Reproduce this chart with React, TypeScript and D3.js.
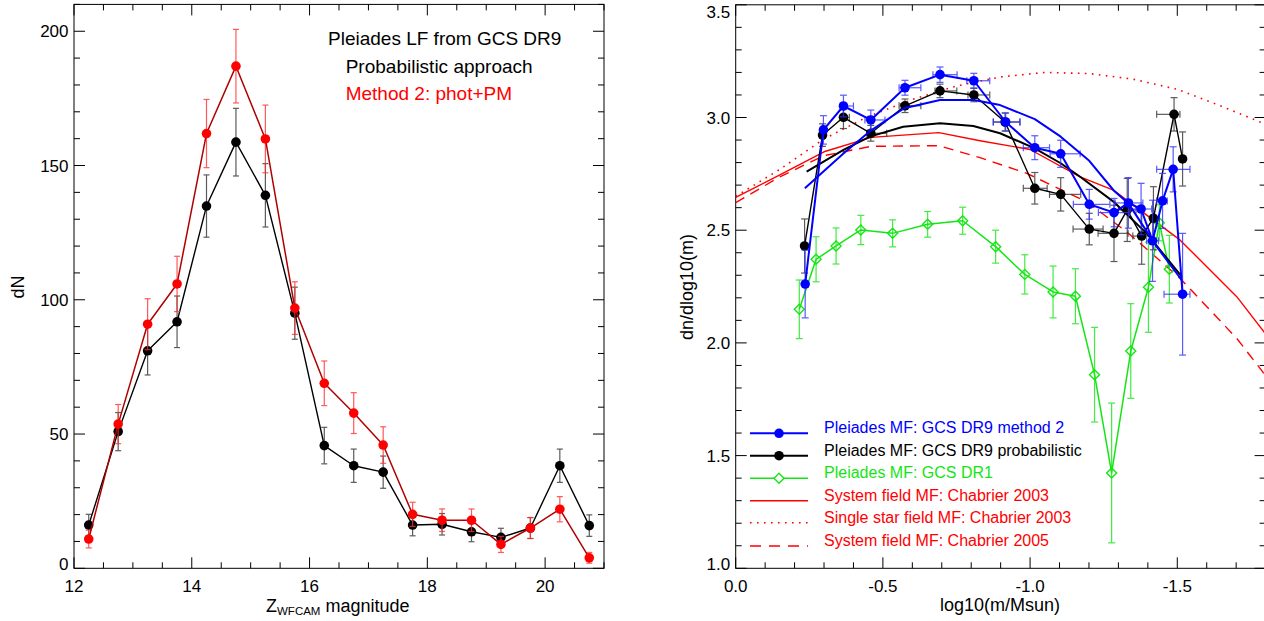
import React from 'react';
import * as d3 from 'd3';

const FONT = '"Liberation Sans", Arial, Helvetica, sans-serif';

// ---------- Left panel: luminosity function ----------
const lfMag = [12.25, 12.75, 13.25, 13.75, 14.25, 14.75, 15.25, 15.75, 16.25, 16.75, 17.25, 17.75, 18.25, 18.75, 19.25, 19.75, 20.25, 20.75];
const lfProb = [16.1, 50.9, 81.0, 91.8, 134.9, 158.7, 138.9, 95.0, 45.7, 38.2, 35.8, 16.1, 16.4, 13.6, 11.5, 15.0, 38.2, 15.9];
const lfProbErr = [4.0, 7.1, 9.0, 9.6, 11.6, 12.6, 11.8, 9.7, 6.8, 6.2, 6.0, 4.0, 4.0, 3.7, 3.4, 3.9, 6.2, 4.0];
const lfM2 = [10.9, 53.7, 90.9, 105.9, 161.9, 187.0, 159.9, 96.9, 68.9, 57.8, 45.9, 20.1, 17.9, 17.9, 8.9, 15.0, 22.0, 3.9];
const lfM2Err = [3.3, 7.3, 9.5, 10.3, 12.7, 13.7, 12.6, 9.8, 8.3, 7.6, 6.8, 4.5, 4.2, 4.2, 3.0, 3.9, 4.7, 2.0];
const lfXTicks = [12, 14, 16, 18, 20];
const lfYTicks = [0, 50, 100, 150, 200];
const lfNotes = ['Pleiades LF from GCS DR9', 'Probabilistic approach', 'Method 2: phot+PM'];

// ---------- Right panel: mass function ----------
const m2LogM = [-0.236, -0.298, -0.366, -0.459, -0.575, -0.694, -0.809, -0.917, -1.016, -1.104, -1.201, -1.285, -1.334, -1.377, -1.416, -1.450, -1.486, -1.518];
const m2Val = [2.261, 2.945, 3.051, 2.989, 3.132, 3.190, 3.163, 2.980, 2.866, 2.839, 2.615, 2.578, 2.621, 2.594, 2.453, 2.630, 2.770, 2.216];
const m2Err = [0.15, 0.063, 0.048, 0.044, 0.033, 0.034, 0.033, 0.04, 0.053, 0.06, 0.066, 0.063, 0.112, 0.114, 0.18, 0.122, 0.1, 0.27];
const m2XErrL = [0, 0.005, 0.01, 0.02, 0.02, 0.024, 0.024, 0.042, 0.039, 0.036, 0.054, 0.053, 0.045, 0.037, 0.02, 0.02, 0.056, 0.063];
const m2XErrR = [0.01, 0.01, 0.034, 0.048, 0.054, 0.058, 0.054, 0.049, 0.05, 0.066, 0.07, 0.054, 0.049, 0.036, 0.02, 0.016, 0.057, 0.025];

const prLogM = [-0.234, -0.295, -0.366, -0.459, -0.575, -0.694, -0.809, -0.915, -1.016, -1.104, -1.201, -1.285, -1.330, -1.379, -1.419, -1.489, -1.518];
const prVal = [2.430, 2.922, 3.001, 2.930, 3.052, 3.118, 3.100, 2.980, 2.686, 2.659, 2.505, 2.486, 2.590, 2.474, 2.553, 3.014, 2.816];
const prErr = [0.12, 0.05, 0.05, 0.035, 0.03, 0.03, 0.03, 0.04, 0.07, 0.074, 0.07, 0.125, 0.14, 0.125, 0.14, 0.074, 0.12];
const prXErrL = [0, 0.005, 0.01, 0.014, 0.02, 0.017, 0.02, 0.04, 0.039, 0.038, 0.055, 0.054, 0.03, 0.03, 0.01, 0.059, 0];
const prXErrR = [0, 0.01, 0.02, 0.054, 0.054, 0.057, 0.054, 0.05, 0.042, 0.068, 0.047, 0.048, 0.03, 0.03, 0.02, 0.02, 0];

const dr1LogM = [-0.216, -0.273, -0.341, -0.425, -0.533, -0.652, -0.771, -0.883, -0.982, -1.078, -1.154, -1.219, -1.277, -1.342, -1.402, -1.439, -1.473];
const dr1Val = [2.149, 2.371, 2.430, 2.501, 2.486, 2.526, 2.542, 2.427, 2.304, 2.226, 2.207, 1.859, 1.423, 1.964, 2.247, 2.533, 2.327];
const dr1Err = [0.13, 0.10, 0.08, 0.065, 0.06, 0.057, 0.06, 0.073, 0.087, 0.115, 0.122, 0.21, 0.31, 0.21, 0.2, 0.08, 0.15];

const m2FitLogM = [-0.235, -0.298, -0.366, -0.459, -0.572, -0.694, -0.809, -0.898, -1.016, -1.104, -1.201, -1.285, -1.334, -1.43, -1.515];
const m2FitVal = [2.686, 2.76, 2.84, 2.942, 3.041, 3.078, 3.078, 3.055, 2.993, 2.915, 2.808, 2.675, 2.619, 2.427, 2.279];

const prFitLogM = [-0.241, -0.366, -0.456, -0.569, -0.694, -0.807, -0.898, -1.016, -1.104, -1.17, -1.283, -1.396, -1.515];
const prFitVal = [2.76, 2.856, 2.915, 2.959, 2.974, 2.962, 2.93, 2.863, 2.797, 2.737, 2.627, 2.486, 2.294];

const c03SysLogM = [0, -0.15, -0.3, -0.46, -0.69, -0.83, -1.0, -1.17, -1.283, -1.396, -1.509, -1.702, -1.8];
const c03SysVal = [2.646, 2.745, 2.848, 2.912, 2.933, 2.897, 2.858, 2.737, 2.678, 2.567, 2.457, 2.205, 2.04];

const c03SingleLogM = [0, -0.15, -0.3, -0.45, -0.6, -0.75, -0.9, -1.05, -1.2, -1.35, -1.5, -1.65, -1.8];
const c03SingleVal = [2.65, 2.77, 2.905, 3.005, 3.08, 3.14, 3.18, 3.2, 3.195, 3.17, 3.125, 3.05, 2.97];

const c05SysLogM = [0, -0.15, -0.3, -0.46, -0.69, -0.83, -0.989, -1.192, -1.328, -1.413, -1.509, -1.622, -1.702, -1.8];
const c05SysVal = [2.622, 2.737, 2.831, 2.872, 2.875, 2.822, 2.752, 2.626, 2.493, 2.397, 2.287, 2.131, 2.02, 1.855];

const mfXTicks = [0, -0.5, -1.0, -1.5];
const mfYTicks = [1.0, 1.5, 2.0, 2.5, 3.0, 3.5];
const legendLabels = [
  'Pleiades MF: GCS DR9 method 2',
  'Pleiades MF: GCS DR9 probabilistic',
  'Pleiades MF: GCS DR1',
  'System field MF: Chabrier 2003',
  'Single star field MF: Chabrier 2003',
  'System field MF: Chabrier 2005',
];

type Scale = d3.ScaleLinear<number, number>;

function minorTicks(a: number, b: number, step: number, majors: number[]) {
  const n = Math.round(Math.abs(b - a) / step);
  const dir = b >= a ? 1 : -1;
  return d3.range(0, n + 1)
    .map((i) => a + dir * i * step)
    .filter((v) => !majors.some((m) => Math.abs(m - v) < step / 10));
}

function Frame(props: {
  x: Scale; y: Scale; xMajor: number[]; yMajor: number[]; xMinorStep: number; yMinorStep: number;
  xFmt: (v: number) => string; yFmt: (v: number) => string;
}) {
  const { x, y, xMajor, yMajor, xMinorStep, yMinorStep, xFmt, yFmt } = props;
  const [x0, x1] = x.range();
  const [yb, yt] = y.range();
  const xd = x.domain();
  const yd = y.domain();
  const xMinor = minorTicks(xd[0], xd[1], xMinorStep, xMajor);
  const yMinor = minorTicks(yd[0], yd[1], yMinorStep, yMajor);
  const L = 11, l = 6;
  const els: React.ReactNode[] = [];
  xMajor.forEach((v, i) => {
    const px = x(v);
    els.push(<line key={'xM' + i} x1={px} x2={px} y1={yb} y2={yb - L} />);
    els.push(<line key={'xMt' + i} x1={px} x2={px} y1={yt} y2={yt + L} />);
  });
  xMinor.forEach((v, i) => {
    const px = x(v);
    els.push(<line key={'xm' + i} x1={px} x2={px} y1={yb} y2={yb - l} />);
    els.push(<line key={'xmt' + i} x1={px} x2={px} y1={yt} y2={yt + l} />);
  });
  yMajor.forEach((v, i) => {
    const py = y(v);
    els.push(<line key={'yM' + i} x1={x0} x2={x0 + L} y1={py} y2={py} />);
    els.push(<line key={'yMr' + i} x1={x1} x2={x1 - L} y1={py} y2={py} />);
  });
  yMinor.forEach((v, i) => {
    const py = y(v);
    els.push(<line key={'ym' + i} x1={x0} x2={x0 + l} y1={py} y2={py} />);
    els.push(<line key={'ymr' + i} x1={x1} x2={x1 - l} y1={py} y2={py} />);
  });
  return (
    <g>
      <g stroke="#000" strokeWidth={1} fill="none">
        <rect x={x0} y={yt} width={x1 - x0} height={yb - yt} />
        {els}
      </g>
      <g fontFamily={FONT} fontSize={17} fill="#000">
        {xMajor.map((v, i) => (
          <text key={'xl' + i} x={x(v)} y={592} textAnchor="middle">{xFmt(v)}</text>
        ))}
        {yMajor.map((v, i) => {
          const cy = Math.max(yt + 7, Math.min(yb - 4, y(v)));
          return (
            <text key={'yl' + i} x={x0 - 5.5} y={cy} dy="0.36em" textAnchor="end">{yFmt(v)}</text>
          );
        })}
      </g>
    </g>
  );
}

function YErr(props: { xs: number[]; ys: number[]; es: number[]; x: Scale; y: Scale; color: string; cap: number; width?: number }) {
  const { xs, ys, es, x, y, color, cap } = props;
  return (
    <g stroke={color} strokeWidth={props.width ?? 1.2} opacity={0.8}>
      {xs.map((xv, i) => {
        const px = x(xv);
        const top = y(ys[i] + es[i]);
        const bot = y(ys[i] - es[i]);
        return (
          <g key={i}>
            <line x1={px} x2={px} y1={top} y2={bot} />
            <line x1={px - cap} x2={px + cap} y1={top} y2={top} />
            <line x1={px - cap} x2={px + cap} y1={bot} y2={bot} />
          </g>
        );
      })}
    </g>
  );
}

function XErr(props: { xs: number[]; ys: number[]; el: number[]; er: number[]; x: Scale; y: Scale; color: string; cap: number }) {
  const { xs, ys, el, er, x, y, color, cap } = props;
  return (
    <g stroke={color} strokeWidth={1.2} opacity={0.8}>
      {xs.map((xv, i) => {
        if (el[i] === 0 && er[i] === 0) return null;
        const py = y(ys[i]);
        const a = x(xv + el[i]);
        const b = x(xv - er[i]);
        return (
          <g key={i}>
            <line x1={a} x2={b} y1={py} y2={py} />
            {el[i] > 0.008 && <line x1={a} x2={a} y1={py - cap} y2={py + cap} />}
            {er[i] > 0.008 && <line x1={b} x2={b} y1={py - cap} y2={py + cap} />}
          </g>
        );
      })}
    </g>
  );
}

function Curve(props: { xs: number[]; ys: number[]; x: Scale; y: Scale; color: string; width: number; dash?: string }) {
  const { xs, ys, x, y, color, width, dash } = props;
  const gen = d3.line<[number, number]>().x((d) => x(d[0])).y((d) => y(d[1]));
  const pts = d3.zip(xs, ys) as [number, number][];
  return <path d={gen(pts) || ''} fill="none" stroke={color} strokeWidth={width} strokeDasharray={dash} strokeLinejoin="round" />;
}

function Dots(props: { xs: number[]; ys: number[]; x: Scale; y: Scale; color: string; r: number }) {
  const { xs, ys, x, y, color, r } = props;
  return (
    <g fill={color}>
      {xs.map((xv, i) => <circle key={i} cx={x(xv)} cy={y(ys[i])} r={r} />)}
    </g>
  );
}

function Diamonds(props: { xs: number[]; ys: number[]; x: Scale; y: Scale; color: string; s: number }) {
  const { xs, ys, x, y, color, s } = props;
  return (
    <g fill="none" stroke={color} strokeWidth={1.4}>
      {xs.map((xv, i) => {
        const cx = x(xv), cy = y(ys[i]);
        return <path key={i} d={`M${cx},${cy - s}L${cx + s},${cy}L${cx},${cy + s}L${cx - s},${cy}Z`} />;
      })}
    </g>
  );
}

export default function App() {
  const xL = d3.scaleLinear().domain([12, 21]).range([74, 604]);
  const yL = d3.scaleLinear().domain([0, 210]).range([568.3, 4.4]);
  const xR = d3.scaleLinear().domain([0, -1.8]).range([735.7, 1265.6]);
  const yR = d3.scaleLinear().domain([1, 3.5]).range([568.3, 4.8]);

  const BLUE = '#0000ff';
  const GREEN = '#14e614';
  const RED = '#ff0000';

  const legendY = [433.3, 455.7, 478.3, 500.7, 522.7, 546];
  const legendColors = [BLUE, '#000', GREEN, RED, RED, RED];

  return (
    <svg width={1264} height={621} style={{ position: 'absolute', left: 0, top: 0, background: '#fff' }}>
      <rect x={0} y={0} width={1264} height={621} fill="#fff" />

      {/* ---------- Left panel ---------- */}
      <Frame x={xL} y={yL} xMajor={lfXTicks} yMajor={lfYTicks} xMinorStep={0.5} yMinorStep={10}
        xFmt={(v) => String(v)} yFmt={(v) => String(v)} />
      <YErr xs={lfMag} ys={lfProb} es={lfProbErr} x={xL} y={yL} color="#333" cap={3} />
      <Curve xs={lfMag} ys={lfProb} x={xL} y={yL} color="#000" width={1.4} />
      <Dots xs={lfMag} ys={lfProb} x={xL} y={yL} color="#000" r={4.8} />
      <YErr xs={lfMag} ys={lfM2} es={lfM2Err} x={xL} y={yL} color="#ff3030" cap={3} />
      <Curve xs={lfMag} ys={lfM2} x={xL} y={yL} color="#b00000" width={1.5} />
      <Dots xs={lfMag} ys={lfM2} x={xL} y={yL} color={RED} r={4.8} />

      <g fontFamily={FONT} fontSize={19}>
        <text x={328} y={45} fill="#000">{lfNotes[0]}</text>
        <text x={345.7} y={72.7} fill="#000">{lfNotes[1]}</text>
        <text x={345.7} y={99.5} fill={RED}>{lfNotes[2]}</text>
      </g>
      <g fontFamily={FONT} fill="#000">
        <text x={266} y={612} fontSize={18}>
          Z<tspan fontSize={11.5} dy={3}>WFCAM</tspan><tspan fontSize={18} dy={-3} dx={5}>magnitude</tspan>
        </text>
        <text transform="translate(24,287) rotate(-90)" textAnchor="middle" fontSize={18}>dN</text>
      </g>

      {/* ---------- Right panel ---------- */}
      <Frame x={xR} y={yR} xMajor={mfXTicks} yMajor={mfYTicks} xMinorStep={0.1} yMinorStep={0.1}
        xFmt={(v) => (v === 0 ? '0.0' : v.toFixed(1))} yFmt={(v) => v.toFixed(1)} />

      <Curve xs={c03SysLogM} ys={c03SysVal} x={xR} y={yR} color={RED} width={1.4} />
      <Curve xs={c03SingleLogM} ys={c03SingleVal} x={xR} y={yR} color={RED} width={1.6} dash="1.6 5.4" />
      <Curve xs={c05SysLogM} ys={c05SysVal} x={xR} y={yR} color={RED} width={1.4} dash="10 7" />

      <YErr xs={dr1LogM} ys={dr1Val} es={dr1Err} x={xR} y={yR} color={GREEN} cap={3.5} />
      <Curve xs={dr1LogM} ys={dr1Val} x={xR} y={yR} color={GREEN} width={1.5} />
      <Diamonds xs={dr1LogM} ys={dr1Val} x={xR} y={yR} color={GREEN} s={5} />

      <YErr xs={prLogM} ys={prVal} es={prErr} x={xR} y={yR} color="#333" cap={3.5} />
      <XErr xs={prLogM} ys={prVal} el={prXErrL} er={prXErrR} x={xR} y={yR} color="#333" cap={3.5} />
      <Curve xs={prLogM} ys={prVal} x={xR} y={yR} color="#000" width={1.4} />
      <Curve xs={prFitLogM} ys={prFitVal} x={xR} y={yR} color="#000" width={2} />
      <Dots xs={prLogM} ys={prVal} x={xR} y={yR} color="#000" r={4.8} />

      <YErr xs={m2LogM} ys={m2Val} es={m2Err} x={xR} y={yR} color="#3030ff" cap={3.5} />
      <XErr xs={m2LogM} ys={m2Val} el={m2XErrL} er={m2XErrR} x={xR} y={yR} color="#3030ff" cap={3.5} />
      <Curve xs={m2LogM} ys={m2Val} x={xR} y={yR} color={BLUE} width={2} />
      <Curve xs={m2FitLogM} ys={m2FitVal} x={xR} y={yR} color={BLUE} width={2} />
      <Dots xs={m2LogM} ys={m2Val} x={xR} y={yR} color={BLUE} r={4.8} />

      {/* legend */}
      <g>
        {legendLabels.map((lab, i) => {
          const yy = legendY[i];
          const dash = i === 4 ? '1.6 5.4' : i === 5 ? '11 8' : undefined;
          const w = i < 2 ? 2 : 1.5;
          return (
            <g key={i}>
              <line x1={750} x2={808} y1={yy} y2={yy} stroke={legendColors[i]} strokeWidth={w} strokeDasharray={dash} />
              {i < 2 && <circle cx={779} cy={yy} r={4.8} fill={legendColors[i]} />}
              {i === 2 && <path d={`M779,${yy - 5}L784,${yy}L779,${yy + 5}L774,${yy}Z`} fill="#fff" stroke={GREEN} strokeWidth={1.4} />}
              <text x={824} y={yy} fontFamily={FONT} fontSize={16} fill={legendColors[i]}>{lab}</text>
            </g>
          );
        })}
      </g>

      <g fontFamily={FONT} fill="#000" fontSize={18}>
        <text x={1000} y={611} textAnchor="middle">log10(m/Msun)</text>
        <text transform="translate(693,287) rotate(-90)" textAnchor="middle">dn/dlog10(m)</text>
      </g>
    </svg>
  );
}
